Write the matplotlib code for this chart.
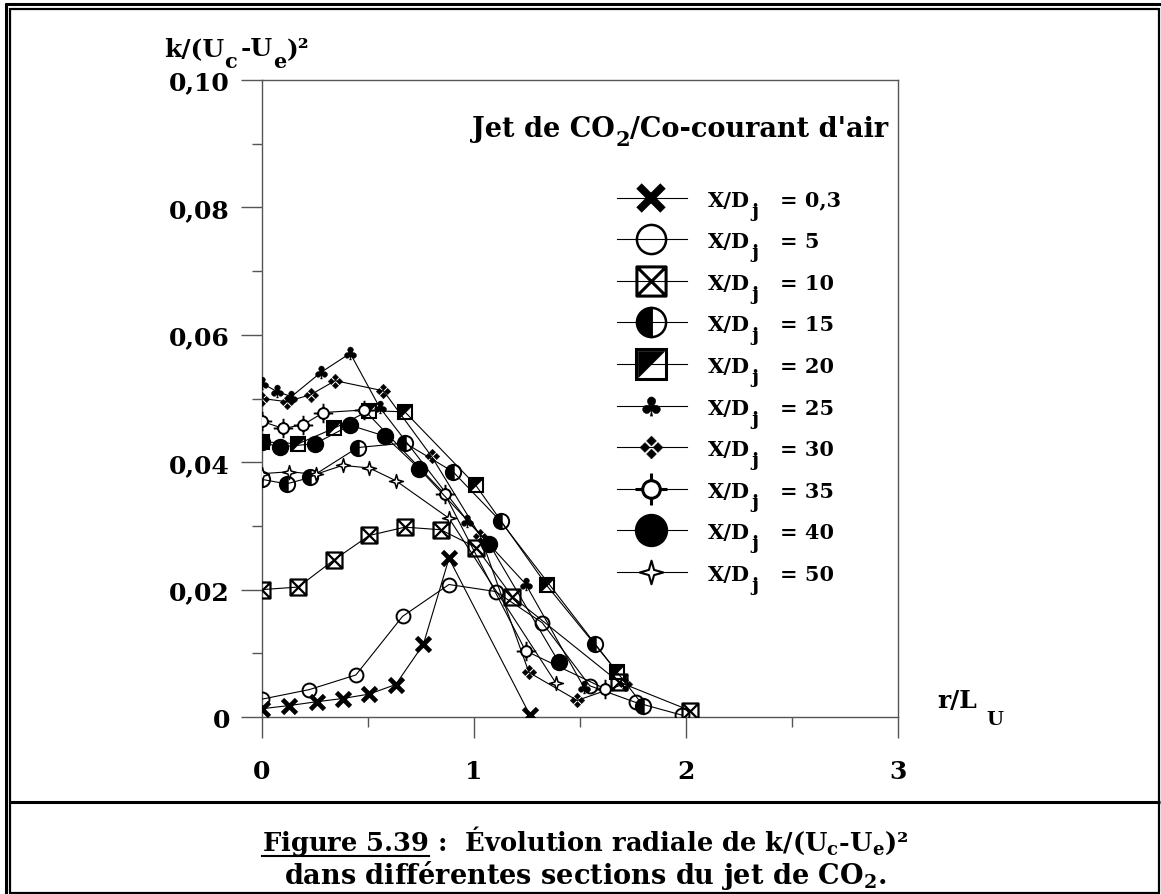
import numpy as np
import matplotlib
matplotlib.use("Agg")
import matplotlib.pyplot as plt
from matplotlib.path import Path
from matplotlib.lines import Line2D
from matplotlib.textpath import TextPath
from matplotlib.font_manager import FontProperties
from matplotlib.ticker import MultipleLocator, FuncFormatter

plt.rcParams['font.family'] = ['DejaVu Serif']
plt.rcParams['font.weight'] = 'bold'
plt.rcParams['mathtext.fontset'] = 'custom'
plt.rcParams['mathtext.rm'] = 'DejaVu Serif:bold'
plt.rcParams['mathtext.it'] = 'DejaVu Serif:bold'
plt.rcParams['mathtext.bf'] = 'DejaVu Serif:bold'

#------------------------------------------------------------------
# data  (r/L_U , k/(Uc-Ue)^2)

x_03 = [0, 0.129, 0.259, 0.38, 0.506, 0.631, 0.761, 0.882, 1.264]
k_03 = [0.0013, 0.0018, 0.0024, 0.0029, 0.0036, 0.0051, 0.0114, 0.0249, 0.0003]

x_5 = [0, 0.223, 0.443, 0.663, 0.882, 1.102, 1.322, 1.546, 1.762, 1.98]
k_5 = [0.0028, 0.0043, 0.0066, 0.0158, 0.0208, 0.0197, 0.0148, 0.0049, 0.0023, 0.0003]

x_10 = [0, 0.171, 0.341, 0.506, 0.674, 0.843, 1.011, 1.181, 1.683, 2.02]
k_10 = [0.0200, 0.0204, 0.0247, 0.0285, 0.0298, 0.0294, 0.0266, 0.0189, 0.0055, 0.0010]

x_15 = [0, 0.116, 0.228, 0.451, 0.675, 0.901, 1.126, 1.573, 1.798]
k_15 = [0.0373, 0.0366, 0.0376, 0.0423, 0.0430, 0.0385, 0.0307, 0.0114, 0.0018]

x_20 = [0, 0.171, 0.338, 0.506, 0.674, 1.008, 1.342, 1.675]
k_20 = [0.0432, 0.0429, 0.0453, 0.0481, 0.0479, 0.0364, 0.0207, 0.0071]

x_25 = [0, 0.070, 0.139, 0.278, 0.416, 0.555, 0.969, 1.243, 1.518]
k_25 = [0.0524, 0.0511, 0.0503, 0.0541, 0.0571, 0.0486, 0.0308, 0.0209, 0.0047]

x_30 = [0, 0.117, 0.23, 0.345, 0.573, 0.80, 1.03, 1.259, 1.487, 1.71]
k_30 = [0.0500, 0.0495, 0.0506, 0.0528, 0.0512, 0.0409, 0.0284, 0.0070, 0.0026, 0.0052]

x_35 = [0, 0.1, 0.195, 0.29, 0.482, 0.862, 1.243, 1.62]
k_35 = [0.0464, 0.0453, 0.0459, 0.0478, 0.0482, 0.0350, 0.0104, 0.0044]

x_40 = [0, 0.085, 0.25, 0.416, 0.579, 0.741, 1.071, 1.40]
k_40 = [0.0431, 0.0424, 0.0429, 0.0458, 0.0441, 0.0390, 0.0272, 0.0086]

x_50 = [0, 0.129, 0.254, 0.38, 0.506, 0.631, 0.882, 1.385]
k_50 = [0.0382, 0.0385, 0.0381, 0.0395, 0.0391, 0.0371, 0.0312, 0.0054]

sections = ['0,3', '5', '10', '15', '20', '25', '30', '35', '40', '50']

#------------------------------------------------------------------
# marker shapes

M, L, C = Path.MOVETO, Path.LINETO, Path.CLOSEPOLY

boxx = Path([(-1, -1), (1, -1), (1, 1), (-1, 1), (-1, -1),
             (-1, -1), (1, 1), (-1, 1), (1, -1)],
            [M, L, L, L, C, M, L, M, L])

tri_ul = Path([(-1, -1), (-1, 1), (1, 1), (-1, -1)], [M, L, L, C])

def diamonds():
    verts, codes = [], []
    r = 0.43
    d = 0.57
    for cx, cy in [(0, d), (d, 0), (0, -d), (-d, 0)]:
        verts += [(cx, cy + r), (cx + r, cy), (cx, cy - r), (cx - r, cy), (cx, cy + r)]
        codes += [M, L, L, L, C]
    return Path(verts, codes)

def star4(a=0.22):
    pts = [(0, 1), (a, a), (1, 0), (a, -a), (0, -1), (-a, -a), (-1, 0), (-a, a), (0, 1)]
    return Path(pts, [M] + [L] * 7 + [C])

def crosshair(r=0.55):
    circ = Path.circle((0, 0), r)
    arms = Path([(0, r), (0, 1), (0, -r), (0, -1), (r, 0), (1, 0), (-r, 0), (-1, 0)],
                [M, L] * 4)
    return Path.make_compound_path(circ, arms)

def club():
    tpath = TextPath((0, 0), '\u2663', size=1, prop=FontProperties(family='DejaVu Sans'))
    bb = tpath.get_extents()
    v = tpath.vertices - [(bb.x0 + bb.x1) / 2, (bb.y0 + bb.y1) / 2]
    return Path(v, tpath.codes)

# style for each series: list of marker layers
styles = [
    [dict(marker='x', mew=3.4, mec='k')],
    [dict(marker='o', mfc='none', mec='k', mew=1.4)],
    [dict(marker=boxx, mfc='none', mec='k', mew=1.6)],
    [dict(marker='o', fillstyle='left', mfc='k', mfcalt='none', mec='k', mew=1.4)],
    [dict(marker='s', mfc='none', mec='k', mew=1.5),
     dict(marker=tri_ul, mfc='k', mec='k', mew=0.5)],
    [dict(marker=club(), mfc='k', mec='k', mew=0.3)],
    [dict(marker=diamonds(), mfc='k', mec='k', mew=0.3)],
    [dict(marker=crosshair(), mfc='white', mec='k', mew=1.4)],
    [dict(marker='o', mfc='k', mec='k', mew=1)],
    [dict(marker=star4(), mfc='white', mec='k', mew=1.1)],
]
ms_data = [9.5, 10, 11.5, 11, 10.5, 11.5, 10.5, 14, 11.5, 10]
ms_leg = [17, 21, 21, 21, 21, 17, 16.5, 23, 23, 17]
mew_leg = [5.5, 1.8, 2.2, 1.8, 2.2, 0.3, 0.3, 2.2, 1, 1.5]

xs = [x_03, x_5, x_10, x_15, x_20, x_25, x_30, x_35, x_40, x_50]
ks = [k_03, k_5, k_10, k_15, k_20, k_25, k_30, k_35, k_40, k_50]

#------------------------------------------------------------------

W, H = 1161, 895
fig = plt.figure(figsize=(W / 100, H / 100), dpi=100)
renderer = fig.canvas.get_renderer()

def fx(px):
    return px / W

def fy(py):
    return 1 - py / H

####### text made of pieces, each piece can be lowered (pixels)
def rich(x, y, parts, ha='left'):
    arts, widths = [], []
    for s, size, dy, gap in parts:
        t = fig.text(0, 0, s, fontsize=size, fontweight='bold', va='baseline', ha='left')
        widths.append(t.get_window_extent(renderer).width + gap)
        arts.append((t, dy))
    total = sum(widths)
    if ha == 'right':
        x = x - total
    elif ha == 'center':
        x = x - total / 2
    cx = x
    for (t, dy), w in zip(arts, widths):
        t.set_position((fx(cx), fy(y + dy)))
        cx += w
    return x

ax = fig.add_axes([fx(262), fy(718), fx(898) - fx(262), fy(81) - fy(718)])
ax.set_xlim(0, 3)
ax.set_ylim(0, 0.10)

for i in range(len(xs)):
    st = styles[i]
    ax.plot(xs[i], ks[i], color='k', lw=0.8, ms=ms_data[i], zorder=3 + i * 0.1,
            **st[0])
    for extra in st[1:]:
        ax.plot(xs[i], ks[i], ls='none', ms=ms_data[i] * 0.92, zorder=3 + i * 0.1 + 0.05,
                **extra)

# legend drawn by hand
for i, s in enumerate(sections):
    yl = 0.815 - i * 0.0652
    ax.plot([0.558, 0.668], [yl, yl], transform=ax.transAxes, color='k', lw=0.8,
            clip_on=False, zorder=5)
    st = styles[i]
    first = dict(st[0])
    first['mew'] = mew_leg[i]
    ax.plot([0.612], [yl], transform=ax.transAxes, ms=ms_leg[i], clip_on=False,
            zorder=6, **first)
    for extra in st[1:]:
        ax.plot([0.612], [yl], transform=ax.transAxes, ms=ms_leg[i] * 0.92,
                clip_on=False, zorder=6.1, **extra)
    ypx = 718 - yl * 637 + 8
    rich(708, ypx, [('X/D', 15, 0, 1), ('j', 14, 10, 0)])
    fig.text(fx(780), fy(ypx), '= ' + s, fontsize=15, fontweight='bold', va='baseline')

rich(888, 137, [('Jet de CO', 19.5, 0, 0), ('2', 15, 9, 0), ('/Co-courant d\'air', 19.5, 0, 0)],
     ha='right')

# axes look
for sp in ax.spines.values():
    sp.set_color('#555555')
    sp.set_linewidth(1.0)

ax.xaxis.set_major_locator(MultipleLocator(1))
ax.xaxis.set_minor_locator(MultipleLocator(0.5))
ax.yaxis.set_major_locator(MultipleLocator(0.02))
ax.yaxis.set_minor_locator(MultipleLocator(0.01))
ax.tick_params(which='major', direction='out', length=15, width=1.0, color='#555555')
ax.tick_params(which='minor', direction='out', length=7.5, width=1.0, color='#555555')
ax.tick_params(axis='x', which='major', pad=15, labelsize=18)
ax.tick_params(axis='y', which='major', pad=8, labelsize=18)

def yfmt(v, pos):
    if abs(v) < 1e-9:
        return '0'
    return ('%.2f' % v).replace('.', ',')

ax.yaxis.set_major_formatter(FuncFormatter(yfmt))
ax.xaxis.set_major_formatter(FuncFormatter(lambda v, p: '%d' % round(v)))
for lab in ax.get_xticklabels() + ax.get_yticklabels():
    lab.set_fontweight('bold')

# axis titles
rich(164, 56, [('k/(U', 18, 0, 0), ('c', 15, 12, 4), ('-U', 18, 0, 0), ('e', 15, 12, 0),
               (')\u00b2', 18, 0, 0)])
rich(937, 708, [('r/L', 18, 0, 10), ('U', 14, 17, 0)])

# frame of the figure
def hline(y, x0, x1, lw):
    fig.add_artist(Line2D([fx(x0), fx(x1)], [fy(y), fy(y)], color='k', lw=lw,
                          solid_capstyle='butt'))

def vline(x, y0, y1, lw):
    fig.add_artist(Line2D([fx(x), fx(x)], [fy(y0), fy(y1)], color='k', lw=lw,
                          solid_capstyle='butt'))

hline(5, 5, W, 2.2)
vline(6, 4, H, 2.2)
hline(9.5, 9, 1159, 1.6)
vline(10, 9, 894, 1.6)
vline(1159, 9, 894, 1.6)
hline(893.5, 9, 1160, 1.6)
hline(803, 9, 1160, 2.2)

# caption
cap1 = 'Figure 5.39 :  \u00c9volution radiale de k/(U$_\\mathregular{c}$-U$_\\mathregular{e}$)\u00b2'
cap2 = 'dans diff\u00e9rentes sections du jet de CO$_\\mathregular{2}$.'
t1 = fig.text(fx(585), fy(851), cap1, fontsize=18.5, fontweight='bold', ha='center',
              va='baseline')
fig.text(fx(585), fy(884), cap2, fontsize=19.5, fontweight='bold', ha='center',
         va='baseline')

bb1 = t1.get_window_extent(renderer)
tmp = fig.text(0, 0, 'Figure 5.39', fontsize=18.5, fontweight='bold')
wf = tmp.get_window_extent(renderer).width
tmp.remove()
fig.add_artist(Line2D([bb1.x0 / W, (bb1.x0 + wf) / W], [fy(857), fy(857)], color='k',
                      lw=1.5))

fig.savefig('out.png', dpi=100, facecolor='white')
